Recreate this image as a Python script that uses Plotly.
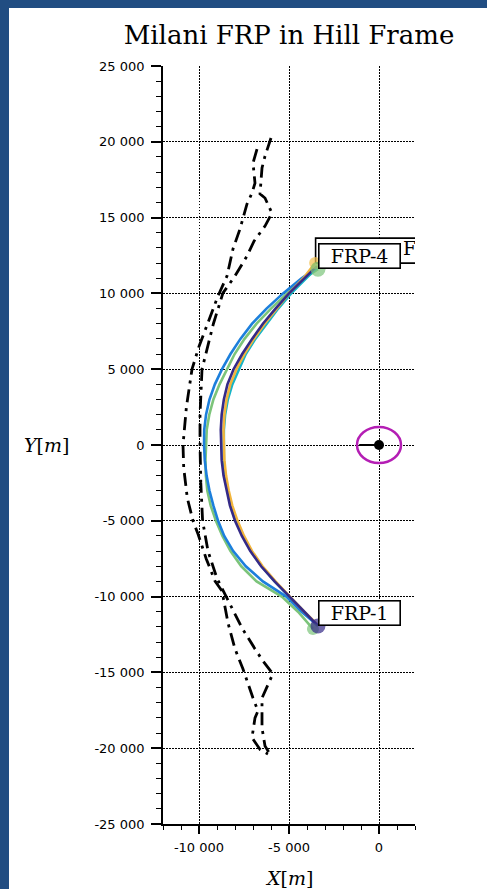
import plotly.graph_objects as go

# ---- relative trajectories (Hill frame, metres) ----
traj_names = ["green", "blue", "cyan", "orange", "purple"]
traj_colors = ["#7cc47a", "#1c7fdc", "#14b4c8", "#f2b53c", "#352a87"]

green_x = [-3390, -4150, -5110, -6000, -6800, -7470, -8020, -8450, -8860, -9200, -9430, -9570, -9620,
           -9640, -9620, -9540, -9350, -9060, -8700, -8250, -7650, -6800, -5400, -4500, -3670]
green_y = [11600, 11000, 10000, 9000, 8000, 7000, 6000, 5000, 4000, 3000, 2000, 1000, 0,
           -1000, -2000, -3000, -4000, -5000, -6000, -7000, -8000, -9000, -10000, -11000, -12130]

blue_x = [-3450, -4300, -5330, -6250, -7050, -7700, -8250, -8720, -9120, -9420, -9610, -9710, -9720,
          -9680, -9580, -9420, -9200, -8940, -8600, -8100, -7400, -6450, -5150, -4300, -3450]
blue_y = [11700, 11000, 10000, 9000, 8000, 7000, 6000, 5000, 4000, 3000, 2000, 1000, 0,
          -1000, -2000, -3000, -4000, -5000, -6000, -7000, -8000, -9000, -10000, -11000, -11850]

cyan_x = [-3450, -4050, -4880, -5600, -6250, -6870, -7400, -7780, -8150, -8400, -8550, -8620, -8640,
          -8620, -8540, -8400, -8200, -7920, -7560, -7100, -6520, -5800, -4980, -4180, -3450]
cyan_y = [11700, 11000, 10000, 9000, 8000, 7000, 6000, 5000, 4000, 3000, 2000, 1000, 0,
          -1000, -2000, -3000, -4000, -5000, -6000, -7000, -8000, -9000, -10000, -11000, -11850]

orange_x = [-3550, -4200, -5000, -5700, -6350, -6950, -7480, -7920, -8260, -8470, -8590, -8640, -8630,
            -8590, -8500, -8350, -8150, -7860, -7500, -7050, -6470, -5750, -4950, -4150, -3450]
orange_y = [12000, 11000, 10000, 9000, 8000, 7000, 6000, 5000, 4000, 3000, 2000, 1000, 0,
            -1000, -2000, -3000, -4000, -5000, -6000, -7000, -8000, -9000, -10000, -11000, -11800]

purple_x = [-3450, -4150, -5000, -5750, -6450, -7050, -7600, -8080, -8420, -8620, -8740, -8790, -8780,
            -8740, -8640, -8480, -8280, -8000, -7620, -7150, -6550, -5800, -4950, -4150, -3390]
purple_y = [11800, 11000, 10000, 9000, 8000, 7000, 6000, 5000, 4000, 3000, 2000, 1000, 0,
            -1000, -2000, -3000, -4000, -5000, -6000, -7000, -8000, -9000, -10000, -11000, -11940]

# ---- reference envelopes (dash-dot) ----
outer_x = [-6778, -7000, -6889, -7056, -7333, -7500, -7722, -8111, -8278, -8444, -8944, -9500, -10000,
           -10389, -10700, -10889, -10850, -10650, -10333, -10055, -9600, -9111, -8722, -8389, -8000,
           -7556, -7333, -7000, -6722, -6889, -7056, -6600, -6167]
outer_y = [19520, 18600, 17280, 16620, 15900, 15240, 14250, 12930, 12140, 11150, 9830, 8000, 6500,
           5000, 2500, 0, -1500, -3500, -5000, -5870, -7500, -8970, -9630, -11740, -13450,
           -14780, -15570, -16690, -17540, -18000, -19300, -20100, -20380]

inner_x = [-6000, -6333, -6500, -6611, -6333, -5950, -6333, -6944, -7333, -8000, -8667, -9200, -9833,
           -9944, -9944, -9900, -9800, -9500, -9000, -8300, -7611, -6889, -6444, -5900, -6500,
           -6500, -6500, -6333, -6000]
inner_y = [20250, 19060, 18270, 16560, 16290, 15300, 14440, 13450, 12470, 11150, 10030, 8000, 5000,
           2000, 0, -2500, -5000, -7000, -8800, -10500, -12070, -13450, -14250, -15100, -16690,
           -17700, -18670, -19850, -20500]

# ---- FRP end points ----
frp_x = [-3550, -3390, -3670, -3390]
frp_y = [12000, 11600, -12130, -11940]
frp_colors = ["#f2c14e", "#7cc47a", "#7cc47a", "#352a87"]
frp_sizes = [12, 15, 12, 15]

# labels: (text, index of the end point the box is anchored to)
label_front = [("FRP-4", 1), ("FRP-1", 3)]
label_back = ("FRP-3", 0)

# ---- target ----
target_x = [0]
target_y = [0]
target_line_x = [-1100, 0]
target_line_y = [0, 0]
keepout_radius_x = 1222
keepout_radius_y = 1190

# ---- axes ----
x_range = [-12000, 2000]
y_range = [-25000, 25000]
x_tickvals = [-10000, -5000, 0]
x_ticktext = ["-10 000", "-5 000", "0"]
y_tickvals = [25000, 20000, 15000, 10000, 5000, 0, -5000, -10000, -15000, -20000, -25000]
y_ticktext = ["25 000", "20 000", "15 000", "10 000", "5 000", "0",
              "-5 000", "-10 000", "-15 000", "-20 000", "-25 000"]

W, H = 487, 889
ML, MR, MT, MB = 163, 72, 66, 65
PW, PH = W - ML - MR, H - MT - MB
m_per_px_x = (x_range[1] - x_range[0]) / PW
m_per_px_y = (y_range[1] - y_range[0]) / PH

fig = go.Figure()

# envelopes
for xs, ys in [(outer_x, outer_y), (inner_x, inner_y)]:
    fig.add_trace(go.Scatter(x=xs, y=ys, mode="lines",
                             line=dict(color="black", width=2.8, dash="13px,6px,3px,6px")))

# trajectories
series = {"green": (green_x, green_y), "blue": (blue_x, blue_y), "cyan": (cyan_x, cyan_y),
          "orange": (orange_x, orange_y), "purple": (purple_x, purple_y)}
for name, col in zip(traj_names, traj_colors):
    xs, ys = series[name]
    fig.add_trace(go.Scatter(x=xs, y=ys, mode="lines", line=dict(color=col, width=2.6)))

# end point markers
fig.add_trace(go.Scatter(x=frp_x, y=frp_y, mode="markers",
                         marker=dict(color=frp_colors, size=frp_sizes, line=dict(width=0))))

# target with approach segment
fig.add_trace(go.Scatter(x=target_line_x, y=target_line_y, mode="lines",
                         line=dict(color="black", width=2)))
fig.add_trace(go.Scatter(x=target_x, y=target_y, mode="markers",
                         marker=dict(color="black", size=10)))

# keep-out ellipse around the target
fig.add_shape(type="circle", xref="x", yref="y",
              x0=target_x[0] - keepout_radius_x, x1=target_x[0] + keepout_radius_x,
              y0=target_y[0] - keepout_radius_y, y1=target_y[0] + keepout_radius_y,
              line=dict(color="#b41eb4", width=2.5), layer="above")

# label box partly hidden behind FRP-4 (clipped by the plot area)
box_h = 25 * m_per_px_y
bi = label_back[1]
fig.add_shape(type="rect", xref="x", yref="y",
              x0=frp_x[bi] + 0.5 * m_per_px_x, x1=frp_x[bi] + 200 * m_per_px_x,
              y0=frp_y[bi], y1=frp_y[bi] + box_h,
              line=dict(color="black", width=1.6), fillcolor="white", layer="between")
fig.add_trace(go.Scatter(x=[frp_x[bi] + 88 * m_per_px_x], y=[frp_y[bi] + box_h / 2],
                         mode="text", text=[label_back[0]], textposition="middle right",
                         textfont=dict(family="DejaVu Serif", size=19, color="black"),
                         cliponaxis=True))

for txt, i in label_front:
    fig.add_annotation(x=frp_x[i], y=frp_y[i], xref="x", yref="y", text=txt,
                       showarrow=False, xanchor="left", yanchor="bottom",
                       width=78, height=21, borderpad=1, borderwidth=1.6,
                       bordercolor="black", bgcolor="white",
                       font=dict(family="DejaVu Serif", size=19, color="black"))

# top dotted grid line at the range edge
fig.add_shape(type="line", xref="paper", yref="paper", x0=0, x1=1, y0=1, y1=1,
              line=dict(color="black", width=1, dash="1.5px,1.5px"), layer="below")

# white panel on the slide background
fig.add_shape(type="rect", xref="paper", yref="paper",
              x0=(9 - ML) / PW, x1=(W + 5 - ML) / PW,
              y0=-(MB + 5) / PH, y1=(PH + MT - 8) / PH,
              fillcolor="white", line=dict(width=0), layer="below")

# axis titles
fig.add_annotation(xref="paper", yref="paper", x=(46 - ML) / PW, y=0.5,
                   xanchor="center", yanchor="middle",
                   text="<i>Y</i>[<i>m</i>]", showarrow=False,
                   font=dict(family="DejaVu Serif", size=19, color="black"))
fig.add_annotation(xref="paper", yref="paper", x=0.5, y=-(878 - (MT + PH)) / PH,
                   xanchor="center", yanchor="middle",
                   text="<i>X</i>[<i>m</i>]", showarrow=False,
                   font=dict(family="DejaVu Serif", size=19, color="black"))

tickfont = dict(family="DejaVu Sans", size=13, color="black")
fig.update_xaxes(range=x_range, tickmode="array", tickvals=x_tickvals, ticktext=x_ticktext,
                 showgrid=True, gridcolor="black", gridwidth=1, griddash="1.5px,1.5px",
                 showline=True, linecolor="black", linewidth=1.6, zeroline=False,
                 ticks="outside", ticklen=8, tickwidth=1.6, tickcolor="black",
                 tickfont=tickfont, ticklabelstandoff=3,
                 minor=dict(ticks="outside", ticklen=4, tickwidth=1.3, tickcolor="black",
                            tickmode="linear", tick0=0, dtick=1000, showgrid=False))
fig.update_yaxes(range=y_range, tickmode="array", tickvals=y_tickvals, ticktext=y_ticktext,
                 showgrid=True, gridcolor="black", gridwidth=1, griddash="1.5px,1.5px",
                 showline=True, linecolor="black", linewidth=1.6, zeroline=False,
                 ticks="outside", ticklen=10, tickwidth=1.6, tickcolor="black",
                 tickfont=tickfont, ticklabelstandoff=4,
                 minor=dict(ticks="outside", ticklen=5, tickwidth=1.3, tickcolor="black",
                            tickmode="linear", tick0=0, dtick=1000, showgrid=False))

fig.update_layout(
    width=W, height=H,
    margin=dict(l=ML, r=MR, t=MT, b=MB, pad=0),
    paper_bgcolor="#214d82", plot_bgcolor="white",
    showlegend=False,
    title=dict(text="Milani FRP in Hill Frame", x=0.5, xref="paper", xanchor="center",
               y=1 - 35 / H, yref="container", yanchor="middle",
               font=dict(family="DejaVu Serif", size=26, color="black")),
)

fig.write_html("out.html")
